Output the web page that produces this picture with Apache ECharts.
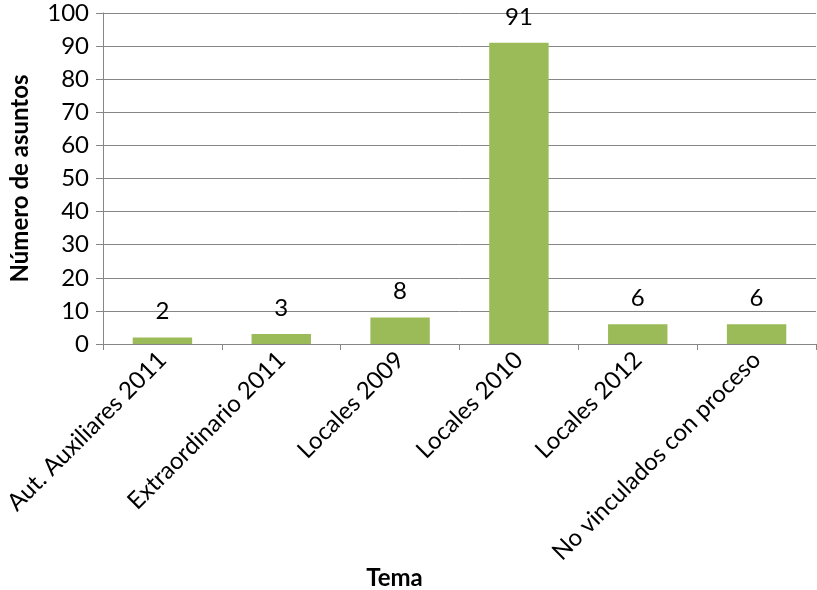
<!DOCTYPE html>
<html><head><meta charset="utf-8">
<script src="https://cdn.jsdelivr.net/npm/echarts@6/dist/echarts.min.js"></script>
<style>html,body{margin:0;padding:0;background:#fff}#c{width:817px;height:590px}</style>
</head><body><div id="c"></div>
<script>
const categories = ["Aut. Auxiliares 2011","Extraordinario 2011","Locales 2009","Locales 2010","Locales 2012","No vinculados con proceso"];
const values = [2, 3, 8, 91, 6, 6];
const yTicks = {min: 0, max: 100, interval: 10};
const FONT = "Lato";
const chart = echarts.init(document.getElementById('c'));
chart.setOption({
  animation: false,
  grid: {left: 103, right: 1, top: 13, bottom: 246, containLabel: false, outerBoundsMode: 'none'},
  xAxis: {
    type: 'category', data: categories,
    name: 'Tema', nameLocation: 'middle', nameGap: 222, nameMoveOverlap: false,
    nameTextStyle: {fontFamily: FONT, fontWeight: 'bold', fontSize: 24, color: '#000', padding: [0, 130, 0, 0]},
    axisLine: {lineStyle: {color: '#868686', width: 1}},
    axisTick: {show: true, alignWithLabel: false, length: 6, lineStyle: {color: '#868686'}},
    axisLabel: {rotate: 45, interval: 0, margin: 12, fontFamily: FONT, fontSize: 24, color: '#000'}
  },
  yAxis: {
    type: 'value', min: yTicks.min, max: yTicks.max, interval: yTicks.interval,
    name: 'Número de asuntos', nameLocation: 'middle', nameGap: 71, nameMoveOverlap: false,
    nameTextStyle: {fontFamily: FONT, fontWeight: 'bold', fontSize: 24, color: '#000'},
    axisLine: {show: true, lineStyle: {color: '#868686'}},
    axisTick: {show: true, length: 7, lineStyle: {color: '#868686'}},
    axisLabel: {fontFamily: FONT, fontSize: 24, color: '#000', margin: 14},
    splitLine: {lineStyle: {color: '#868686', width: 1}}
  },
  series: [{
    type: 'bar', data: values, barWidth: '50%',
    itemStyle: {color: '#9BBB59'},
    label: {show: true, position: 'top', distance: 14, fontFamily: FONT, fontSize: 24, color: '#000'}
  }]
});
</script></body></html>
